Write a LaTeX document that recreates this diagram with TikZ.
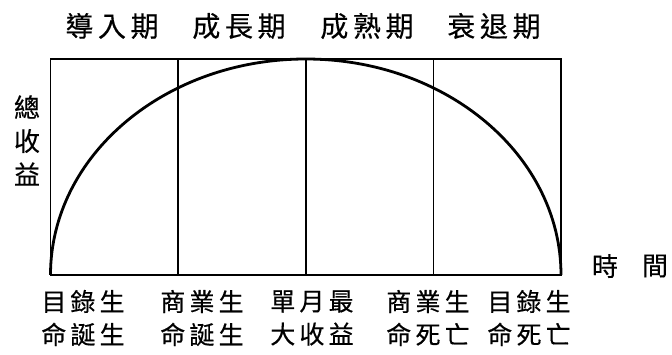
\documentclass[tikz,border=0pt]{standalone}
\usepackage{fontspec}
\newfontfamily\cjk{Noto Sans CJK TC}[FakeBold=0.4]
\tikzset{
  frame/.style={line width=1.5pt},
  curveline/.style={line width=2.8pt},
  toplabel/.style={font=\cjk\fontsize{28}{30}\selectfont, inner sep=0pt},
  sidelabel/.style={font=\cjk\fontsize{26}{28}\selectfont, inner sep=0pt},
  botlabel/.style={font=\cjk\fontsize{25}{33}\selectfont, inner sep=0pt, align=center},
}
\begin{document}
\begin{tikzpicture}[x=1pt,y=-1pt]
\useasboundingbox (0,0) rectangle (672,354);
\coordinate (bl) at (50.5,275);
\coordinate (tl) at (50.5,59);
\coordinate (br) at (561,275);
\coordinate (tr) at (561,59);
\coordinate (b1) at (178.1,275);
\coordinate (t1) at (178.1,59);
\coordinate (b2) at (305.8,275);
\coordinate (t2) at (305.8,59);
\coordinate (b3) at (433.4,275);
\coordinate (t3) at (433.4,59);
\draw[frame] (tl) rectangle (br);
\draw[frame] (t1) -- (b1);
\draw[frame] (t2) -- (b2);
\draw[frame] (t3) -- (b3);
\draw[curveline] (bl) arc[start angle=180, end angle=0, x radius=255.25pt, y radius=216pt];
% top labels
\node[toplabel] (p1) at (112,26) {導\,入\,期};
\node[toplabel] (p2) at (239,26) {成\,長\,期};
\node[toplabel] (p3) at (367,26) {成\,熟\,期};
\node[toplabel] (p4) at (494,26) {衰\,退\,期};
% y label
\node[sidelabel] (y1) at (27,107) {總};
\node[sidelabel] (y2) at (27,141) {收};
\node[sidelabel] (y3) at (27,174) {益};
% x label
\node[sidelabel] (x1) at (605,266) {時};
\node[sidelabel] (x2) at (655,266) {間};
% bottom labels
\node[botlabel] (l1) at (83,318) {目\,錄\,生\\命\,誕\,生};
\node[botlabel] (l2) at (202,318) {商\,業\,生\\命\,誕\,生};
\node[botlabel] (l3) at (312,318) {單\,月\,最\\大\,收\,益};
\node[botlabel] (l4) at (428,318) {商\,業\,生\\命\,死\,亡};
\node[botlabel] (l5) at (529,318) {目\,錄\,生\\命\,死\,亡};
\end{tikzpicture}
\end{document}
